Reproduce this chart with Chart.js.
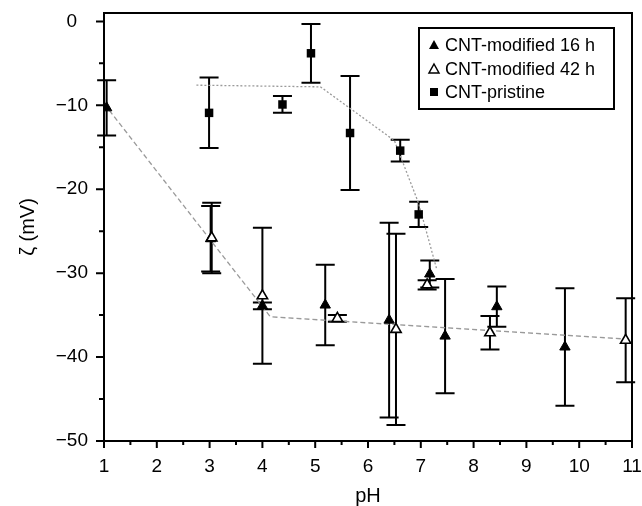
<!DOCTYPE html>
<html><head><meta charset="utf-8">
<script src="https://cdn.jsdelivr.net/npm/chart.js@4/dist/chart.umd.min.js"></script>
<style>html,body{margin:0;padding:0;background:#fff;overflow:hidden}</style>
</head><body>
<canvas id="c" width="642" height="506"></canvas>
<script>
// ---- data ----
const xTickValues = [1, 2, 3, 4, 5, 6, 7, 8, 9, 10, 11];
const yTickValues = [-50, -40, -30, -20, -10, 0];
const xMinorTickValues = [1.5, 2.5, 3.5, 4.5, 5.5, 6.5, 7.5, 8.5, 9.5, 10.5];
const yMinorTickValues = [-45, -35, -25, -15, -5];

const seriesNames = ['CNT-modified 16 h', 'CNT-modified 42 h', 'CNT-pristine'];

const ph16 = [1.05, 3.02, 4.0, 5.19, 6.40, 7.17, 7.46, 8.44, 9.73];
const zeta16 = [-10.3, -25.9, -33.9, -33.8, -35.6, -30.1, -37.5, -34.0, -38.8];
const err16 = [3.3, 3.9, 0.4, 4.8, 11.6, 1.6, 6.8, 2.4, 7.0];

const ph42 = [3.04, 4.0, 5.42, 6.53, 7.12, 8.31, 10.88];
const zeta42 = [-25.8, -32.7, -35.4, -36.7, -31.4, -37.1, -38.0];
const err42 = [4.2, 8.1, 0.4, 11.4, 0.55, 2.0, 5.0];

const phPristine = [2.99, 4.38, 4.92, 5.66, 6.61, 6.96];
const zetaPristine = [-10.9, -9.9, -3.8, -13.3, -15.4, -23.0];
const errPristine = [4.2, 1.0, 3.5, 6.8, 1.3, 1.5];

// guide lines (eye guides drawn in the figure)
const guidePristineX = [2.75, 5.1, 6.5, 6.96, 7.3];
const guidePristineY = [-7.6, -7.8, -14.2, -21.7, -29.5];
const guide42X = [1.1, 4.15, 11.0];
const guide42Y = [-10.6, -35.2, -37.9];

// ---- helpers ----
const toPts = (xs, ys) => xs.map((x, i) => ({x: x, y: ys[i]}));
const errorSets = [
  {x: ph16, y: zeta16, e: err16},
  {x: ph42, y: zeta42, e: err42},
  {x: phPristine, y: zetaPristine, e: errPristine}
];
const FONT = '"Liberation Sans", Arial, Helvetica, sans-serif';

const errorBarPlugin = {
  id: 'errbars',
  beforeDatasetsDraw(chart) {
    const ctx = chart.ctx, xs = chart.scales.x, ys = chart.scales.y;
    ctx.save();
    ctx.strokeStyle = '#000';
    ctx.lineWidth = 2;
    errorSets.forEach(s => {
      s.x.forEach((xv, i) => {
        const px = xs.getPixelForValue(xv);
        const pt = ys.getPixelForValue(s.y[i] + s.e[i]);
        const pb = ys.getPixelForValue(s.y[i] - s.e[i]);
        const cw = 9.5;
        ctx.beginPath();
        ctx.moveTo(px, pt); ctx.lineTo(px, pb);
        ctx.moveTo(px - cw, pt); ctx.lineTo(px + cw, pt);
        ctx.moveTo(px - cw, pb); ctx.lineTo(px + cw, pb);
        ctx.stroke();
      });
    });
    ctx.restore();
  }
};

const framePlugin = {
  id: 'frame',
  afterDraw(chart) {
    const ctx = chart.ctx, a = chart.chartArea, xs = chart.scales.x, ys = chart.scales.y;
    ctx.save();
    ctx.strokeStyle = '#000';
    ctx.lineWidth = 2;
    ctx.strokeRect(a.left, a.top, a.right - a.left, a.bottom - a.top);
    ctx.beginPath();
    xTickValues.forEach(v => { const p = xs.getPixelForValue(v); ctx.moveTo(p, a.bottom); ctx.lineTo(p, a.bottom + 7); });
    xMinorTickValues.forEach(v => { const p = xs.getPixelForValue(v); ctx.moveTo(p, a.bottom); ctx.lineTo(p, a.bottom + 4); });
    yTickValues.forEach(v => { const p = ys.getPixelForValue(v); ctx.moveTo(a.left, p); ctx.lineTo(a.left - 8, p); });
    yMinorTickValues.forEach(v => { const p = ys.getPixelForValue(v); ctx.moveTo(a.left, p); ctx.lineTo(a.left - 5, p); });
    ctx.stroke();

    // legend
    const lx = 419, ly = 28, lw = 195, lh = 81;
    ctx.fillStyle = '#fff';
    ctx.fillRect(lx, ly, lw, lh);
    ctx.strokeRect(lx, ly, lw, lh);
    const rows = [45, 69, 92];
    const mx = 434;
    ctx.lineWidth = 1.5;
    ctx.fillStyle = '#000';
    ctx.beginPath();
    ctx.moveTo(mx, rows[0] - 5); ctx.lineTo(mx + 5, rows[0] + 4); ctx.lineTo(mx - 5, rows[0] + 4); ctx.closePath();
    ctx.fill();
    ctx.beginPath();
    ctx.moveTo(mx, rows[1] - 5); ctx.lineTo(mx + 5, rows[1] + 4); ctx.lineTo(mx - 5, rows[1] + 4); ctx.closePath();
    ctx.stroke();
    ctx.fillRect(mx - 4, rows[2] - 4, 8, 8);
    ctx.font = '18px ' + FONT;
    ctx.textBaseline = 'middle';
    ctx.textAlign = 'left';
    seriesNames.forEach((n, i) => ctx.fillText(n, 445, rows[i] + 1));
    ctx.restore();
  }
};

new Chart(document.getElementById('c'), {
  type: 'scatter',
  data: {
    datasets: [
      {label: 'guide42', type: 'line', data: toPts(guide42X, guide42Y), borderColor: '#9a9a9a', borderWidth: 1.3, borderDash: [5, 3], pointRadius: 0, fill: false, order: 5},
      {label: 'guidePristine', type: 'line', data: toPts(guidePristineX, guidePristineY), borderColor: '#9a9a9a', borderWidth: 1.3, borderDash: [2, 2], pointRadius: 0, fill: false, order: 4},
      {label: seriesNames[2], data: toPts(phPristine, zetaPristine), pointStyle: 'rect', pointRadius: 6, backgroundColor: '#000', borderColor: '#000', borderWidth: 0, order: 2},
      {label: seriesNames[0], data: toPts(ph16, zeta16), pointStyle: 'triangle', pointRadius: 6, backgroundColor: '#000', borderColor: '#000', borderWidth: 1, order: 1},
      {label: seriesNames[1], data: toPts(ph42, zeta42), pointStyle: 'triangle', pointRadius: 6, backgroundColor: '#fff', borderColor: '#000', borderWidth: 1.6, order: 0}
    ]
  },
  options: {
    responsive: false,
    animation: false,
    devicePixelRatio: 1,
    layout: {padding: {top: 13, right: 10, left: 0, bottom: 0}},
    plugins: {legend: {display: false}, tooltip: {enabled: false}},
    scales: {
      x: {
        type: 'linear', min: 1, max: 11,
        grid: {display: false, drawTicks: false},
        border: {display: false},
        afterBuildTicks: s => { s.ticks = xTickValues.map(v => ({value: v})); },
        afterFit: s => { s.height = 65; s.paddingLeft = 0; s.paddingRight = 0; },
        ticks: {color: '#000', font: {family: FONT, size: 19}, padding: 14, maxRotation: 0, callback: v => String(v)},
        title: {display: true, text: 'pH', color: '#000', font: {family: FONT, size: 20, lineHeight: 0.8}, padding: {top: 0, bottom: 2}}
      },
      y: {
        type: 'linear', min: -50, max: 1,
        grid: {display: false, drawTicks: false},
        border: {display: false},
        afterBuildTicks: s => { s.ticks = yTickValues.map(v => ({value: v})); },
        afterFit: s => { s.width = 104; s.paddingTop = 0; s.paddingBottom = 0; },
        ticks: {color: '#000', font: {family: FONT, size: 19}, padding: 16, crossAlign: 'center', callback: v => String(v).replace('-', '\u2212')},
        title: {display: true, text: '\u03B6 (mV)', color: '#000', font: {family: FONT, size: 20}, padding: {top: 16, bottom: 0}}
      }
    }
  },
  plugins: [errorBarPlugin, framePlugin]
});
</script>
</body></html>
